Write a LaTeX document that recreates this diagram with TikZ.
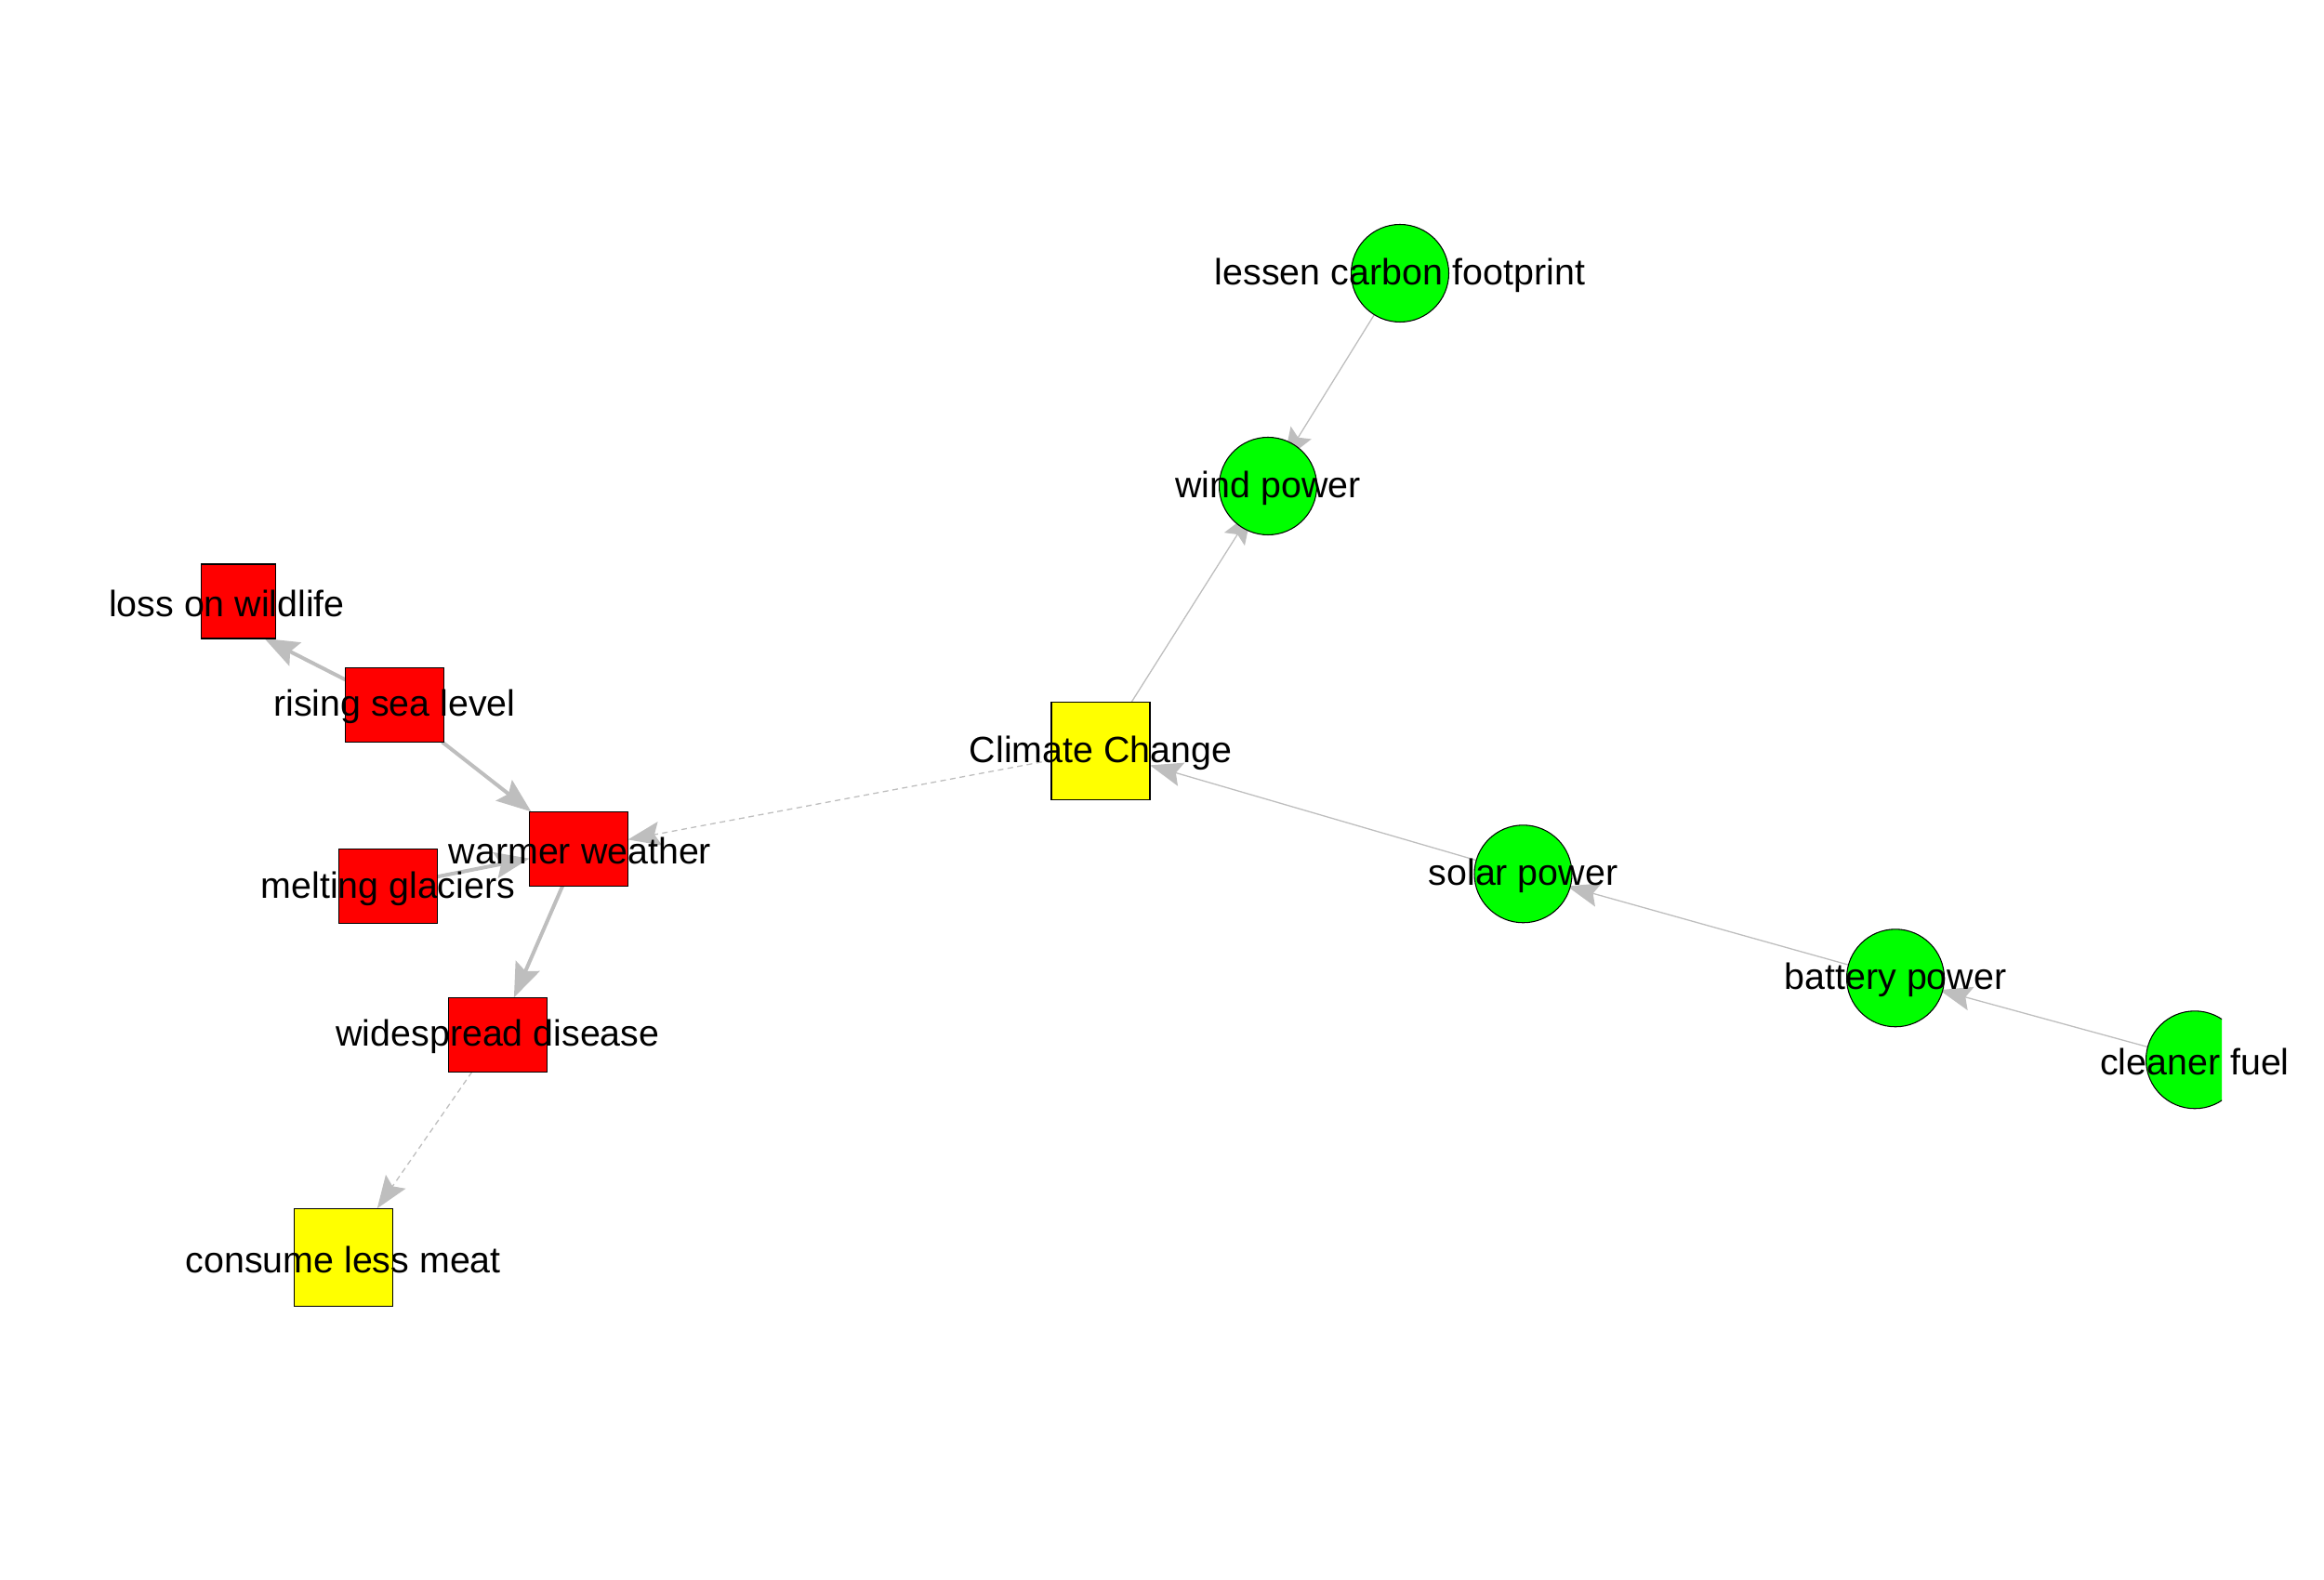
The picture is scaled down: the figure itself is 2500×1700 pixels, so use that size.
\documentclass[tikz,border=0pt]{standalone}
\usepackage{fontspec}
\setmainfont{Liberation Sans}
\usetikzlibrary{arrows.meta,calc}
\definecolor{linkgray}{HTML}{BEBEBE}
\definecolor{fillred}{HTML}{FF0000}
\definecolor{fillyellow}{HTML}{FFFF00}
\definecolor{fillgreen}{HTML}{00FF00}
\pgfdeclarelayer{edges}
\pgfsetlayers{edges,main}
\begin{document}
\begin{tikzpicture}[x=0.1mm,y=-0.1mm,
  shapebase/.style={draw=black, line width=0.3pt, inner sep=0pt, outer sep=0pt},
  redbox/.style={shapebase, rectangle, fill=fillred, minimum width=10.6mm, minimum height=8mm},
  yellowbox/.style={shapebase, rectangle, fill=fillyellow, minimum width=10.6mm, minimum height=10.5mm},
  greendot/.style={shapebase, circle, fill=fillgreen, minimum size=10.5mm},
  lbl/.style={inner sep=0pt, outer sep=0pt, yshift=-0.25mm, font=\fontsize{11.2pt}{13pt}\selectfont},
  link/.style={draw=linkgray, line width=0.13mm, -{Stealth[length=3.5mm,width=2.6mm,inset=0.6mm]}},
  heavylink/.style={draw=linkgray, line width=0.4mm, -{Stealth[length=3.7mm,width=2.8mm,inset=0.6mm]}},
  dashedlink/.style={link, dash pattern=on 0.6mm off 0.45mm},
]
\useasboundingbox (0,0) rectangle (2500,1700);

% solution side (green) and the central topic
\node[greendot] (lcf) at (1506,294) {};
\node[greendot] (wp) at (1364,523) {};
\node[yellowbox] (cc) at (1184,808) {};
\node[greendot] (sp) at (1638.5,940.3) {};
\node[greendot] (bp) at (2039,1052.3) {};
\begin{scope}
  \clip (0,0) rectangle (2390,1700);
  \node[greendot] (cf) at (2361,1140.3) {};
\end{scope}

% consequence side (red) and the action
\node[redbox, minimum width=8mm] (lw) at (256.5,647) {};
\node[redbox] (rsl) at (424.5,758.3) {};
\node[redbox] (ww) at (622.5,913.3) {};
\node[redbox] (mg) at (417.4,953.7) {};
\node[redbox] (wd) at (535.5,1113.3) {};
\node[yellowbox] (clm) at (369.3,1352.7) {};

% connectors, kept beneath the shapes
\begin{pgfonlayer}{edges}
  \draw[link, shorten >=-2mm] (lcf) -- (wp);
  \draw[link, shorten >=-2mm] (cc) -- (wp);
  \draw[link] (sp) -- (cc);
  \draw[link, shorten >=-0.35mm] (bp) -- (sp);
  \draw[link, shorten >=-0.35mm] (cf) -- (bp);
  \draw[dashedlink] (cc) -- (ww);
  \draw[dashedlink] (wd) -- (clm);
  \draw[heavylink] (rsl) -- ($(lw.south east)+(-12,0)$);
  \draw[heavylink] (rsl) -- (ww);
  \draw[heavylink] (mg) -- (ww);
  \draw[heavylink] (ww) -- (wd);
\end{pgfonlayer}

% labels on top
\node[lbl] (lcf-t) at (lcf) {lessen carbon footprint};
\node[lbl] (wp-t) at (wp) {wind power};
\node[lbl] (cc-t) at (cc) {Climate Change};
\node[lbl] (sp-t) at (sp) {solar power};
\node[lbl] (bp-t) at (bp) {battery power};
\node[lbl] (cf-t) at (cf) {cleaner fuel};
\node[lbl] (lw-t) at ($(lw)+(-12.5,0)$) {loss on wildlife};
\node[lbl] (rsl-t) at (rsl) {rising sea level};
\node[lbl] (ww-t) at ($(ww)+(1.5,0)$) {warmer weather};
\node[lbl] (mg-t) at (mg) {melting glaciers};
\node[lbl] (wd-t) at (wd) {widespread disease};
\node[lbl] (clm-t) at (clm) {consume less meat};
\end{tikzpicture}
\end{document}
